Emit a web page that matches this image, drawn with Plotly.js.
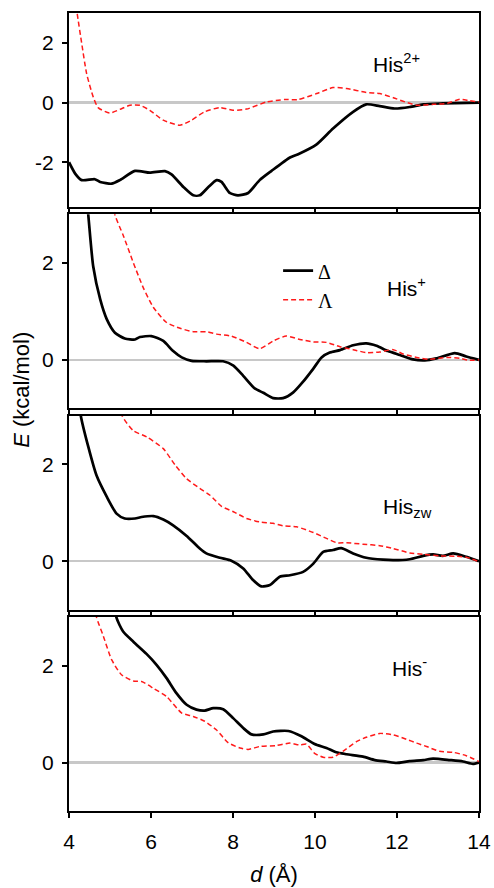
<!DOCTYPE html>
<html>
<head>
<meta charset="utf-8">
<script src="https://cdn.plot.ly/plotly-3.0.1.min.js"></script>
<style>html,body{margin:0;padding:0;background:#fff;}#chart{width:494px;height:888px;}</style>
</head>
<body>
<div id="chart"></div>
<script>
// ---- data: d (Å) and E (kcal/mol) ----
const panelLabels = ["His<sup>2+</sup>", "His<sup>+</sup>", "His<sub>zw</sub>", "His<sup>-</sup>"];
const seriesNames = ["Δ", "Λ"];
const xTicks = [4, 6, 8, 10, 12, 14];

// His2+
const d_his2p_delta = [4.0, 4.15, 4.31, 4.63, 4.76, 5.04, 5.24, 5.61, 5.97, 6.34, 6.50, 6.79, 7.03, 7.19, 7.40, 7.60, 7.72, 7.92, 8.12, 8.37, 8.65, 8.94, 9.39, 9.59, 10.04, 10.44, 10.93, 11.25, 11.58, 11.94, 12.31, 12.64, 13.12, 14.0];
const E_his2p_delta = [-2.0, -2.38, -2.60, -2.57, -2.66, -2.72, -2.60, -2.29, -2.35, -2.30, -2.41, -2.83, -3.11, -3.11, -2.83, -2.60, -2.66, -3.03, -3.11, -3.03, -2.60, -2.29, -1.84, -1.73, -1.40, -0.87, -0.31, -0.06, -0.12, -0.20, -0.15, -0.06, -0.03, 0.0];
const d_his2p_lambda = [4.15, 4.20, 4.31, 4.43, 4.59, 4.71, 4.99, 5.24, 5.49, 5.73, 5.97, 6.30, 6.70, 6.99, 7.31, 7.68, 8.00, 8.33, 8.82, 9.26, 9.59, 10.04, 10.44, 10.77, 11.25, 11.58, 11.91, 12.20, 12.49, 12.89, 13.22, 13.53, 13.77, 14.0];
const E_his2p_lambda = [3.5, 2.98, 1.98, 0.97, 0.19, -0.17, -0.35, -0.23, -0.09, -0.09, -0.26, -0.59, -0.76, -0.59, -0.31, -0.17, -0.26, -0.22, 0.02, 0.10, 0.10, 0.30, 0.50, 0.47, 0.34, 0.30, 0.16, 0.02, -0.09, -0.06, -0.03, 0.11, 0.06, 0.02];

// His+
const d_hisp_delta = [4.42, 4.47, 4.59, 4.76, 4.92, 5.12, 5.36, 5.61, 5.73, 6.01, 6.30, 6.54, 6.75, 6.99, 7.35, 7.76, 8.01, 8.25, 8.53, 8.74, 8.98, 9.22, 9.47, 9.71, 9.96, 10.16, 10.36, 10.61, 10.93, 11.25, 11.50, 11.78, 12.07, 12.39, 12.68, 12.96, 13.41, 13.69, 14.0];
const E_hisp_delta = [3.4, 2.99, 1.93, 1.25, 0.84, 0.56, 0.44, 0.42, 0.47, 0.49, 0.39, 0.18, 0.05, -0.02, -0.03, -0.03, -0.12, -0.33, -0.59, -0.68, -0.79, -0.79, -0.67, -0.45, -0.18, 0.05, 0.15, 0.20, 0.30, 0.34, 0.29, 0.18, 0.10, 0.01, -0.01, 0.03, 0.14, 0.07, 0.0];
const d_hisp_lambda = [5.05, 5.12, 5.33, 5.57, 5.81, 6.06, 6.38, 6.71, 7.03, 7.35, 7.60, 7.96, 8.33, 8.65, 8.98, 9.30, 9.63, 9.96, 10.28, 10.61, 10.93, 11.25, 11.58, 11.91, 12.15, 12.48, 12.80, 13.21, 13.53, 13.77, 14.0];
const E_hisp_lambda = [3.4, 2.99, 2.55, 2.00, 1.49, 1.08, 0.77, 0.65, 0.58, 0.58, 0.53, 0.49, 0.36, 0.23, 0.39, 0.49, 0.42, 0.37, 0.36, 0.27, 0.21, 0.15, 0.16, 0.21, 0.12, 0.05, 0.01, 0.05, 0.03, -0.01, 0.0];

// Hiszw
const d_hiszw_delta = [4.24, 4.29, 4.47, 4.67, 4.92, 5.16, 5.36, 5.61, 5.77, 6.06, 6.30, 6.54, 6.87, 7.19, 7.35, 7.68, 7.96, 8.25, 8.49, 8.69, 8.90, 9.14, 9.39, 9.71, 9.96, 10.20, 10.44, 10.64, 10.93, 11.25, 11.66, 11.91, 12.31, 12.64, 12.88, 13.12, 13.37, 13.69, 14.0];
const E_hiszw_delta = [3.4, 2.99, 2.36, 1.77, 1.33, 0.98, 0.88, 0.88, 0.91, 0.93, 0.86, 0.74, 0.52, 0.26, 0.16, 0.07, 0.01, -0.15, -0.39, -0.52, -0.49, -0.32, -0.29, -0.22, -0.05, 0.19, 0.23, 0.27, 0.16, 0.07, 0.03, 0.02, 0.04, 0.11, 0.14, 0.11, 0.16, 0.09, 0.0];
const d_hiszw_lambda = [5.22, 5.30, 5.57, 5.90, 6.30, 6.59, 6.87, 7.19, 7.44, 7.72, 8.01, 8.33, 8.65, 8.98, 9.22, 9.55, 9.96, 10.28, 10.53, 10.77, 11.17, 11.58, 11.91, 12.31, 12.64, 13.04, 13.45, 13.69, 14.0];
const E_hiszw_lambda = [3.4, 2.99, 2.69, 2.56, 2.32, 1.98, 1.70, 1.50, 1.36, 1.13, 1.02, 0.88, 0.81, 0.78, 0.73, 0.71, 0.59, 0.47, 0.38, 0.38, 0.35, 0.32, 0.26, 0.17, 0.14, 0.11, 0.10, 0.08, -0.01];

// His-
const d_hism_delta = [5.10, 5.16, 5.32, 5.57, 5.89, 6.14, 6.38, 6.62, 6.87, 7.11, 7.31, 7.52, 7.76, 8.01, 8.25, 8.45, 8.74, 8.98, 9.35, 9.67, 9.99, 10.28, 10.52, 10.77, 11.17, 11.46, 11.74, 11.99, 12.31, 12.64, 12.88, 13.29, 13.61, 13.85, 14.0];
const E_hism_delta = [3.4, 2.98, 2.70, 2.49, 2.24, 2.01, 1.74, 1.43, 1.19, 1.09, 1.07, 1.12, 1.10, 0.91, 0.71, 0.58, 0.58, 0.64, 0.65, 0.54, 0.38, 0.30, 0.21, 0.17, 0.12, 0.05, 0.02, -0.01, 0.03, 0.05, 0.08, 0.05, 0.02, -0.03, 0.0];
const d_hism_lambda = [4.6, 4.67, 4.84, 5.04, 5.28, 5.57, 5.77, 6.06, 6.38, 6.75, 7.03, 7.31, 7.60, 7.88, 8.17, 8.37, 8.65, 9.06, 9.39, 9.63, 9.79, 9.99, 10.20, 10.44, 10.68, 11.01, 11.25, 11.58, 11.91, 12.23, 12.48, 12.72, 13.04, 13.37, 13.69, 14.0];
const E_hism_lambda = [3.4, 3.0, 2.60, 2.12, 1.81, 1.68, 1.67, 1.53, 1.36, 1.02, 0.95, 0.85, 0.67, 0.41, 0.30, 0.27, 0.33, 0.35, 0.40, 0.36, 0.38, 0.19, 0.11, 0.11, 0.23, 0.43, 0.52, 0.60, 0.57, 0.48, 0.40, 0.33, 0.23, 0.21, 0.14, 0.02];

// ---- build ----
const panels = [
  {d: [d_his2p_delta, d_his2p_lambda], E: [E_his2p_delta, E_his2p_lambda], yr: [-3.5, 3], yt: [-2, 0, 2], lx: 11.36, ly: 1.32},
  {d: [d_hisp_delta, d_hisp_lambda], E: [E_hisp_delta, E_hisp_lambda], yr: [-1, 3], yt: [0, 2], lx: 11.70, ly: 1.51},
  {d: [d_hiszw_delta, d_hiszw_lambda], E: [E_hiszw_delta, E_hiszw_lambda], yr: [-1, 3], yt: [0, 2], lx: 11.60, ly: 1.10},
  {d: [d_hism_delta, d_hism_lambda], E: [E_hism_delta, E_hism_lambda], yr: [-1, 3], yt: [0, 2], lx: 11.82, ly: 1.97}
];
const domains = [[0.7569, 1.0], [0.5046, 0.7477], [0.2523, 0.4954], [0.0, 0.2431]];
const FONT = "Liberation Sans, Arial, sans-serif";

const traces = [];
const layout = {
  width: 494, height: 888,
  margin: {l: 69, r: 15, t: 13, b: 77},
  paper_bgcolor: "#fff", plot_bgcolor: "#fff",
  font: {family: FONT, size: 21, color: "#000"},
  showlegend: true,
  legend: {x: 0.51, y: 0.7015, xanchor: "left", yanchor: "top", bgcolor: "rgba(0,0,0,0)",
           font: {family: "Liberation Serif, Times New Roman, serif", size: 20, color: "#000"},
           tracegroupgap: 0},
  annotations: []
};

panels.forEach((p, i) => {
  const n = i + 1;
  const xa = "x" + (n === 1 ? "" : n), ya = "y" + (n === 1 ? "" : n);
  traces.push({x: p.d[0], y: p.E[0], xaxis: xa, yaxis: ya, mode: "lines", name: seriesNames[0],
    line: {color: "#000", width: 2.7, shape: "spline", smoothing: 0.6}, showlegend: n === 2, legendgroup: "a"});
  traces.push({x: p.d[1], y: p.E[1], xaxis: xa, yaxis: ya, mode: "lines", name: seriesNames[1],
    line: {color: "#ff1a1a", width: 1.5, dash: "5px,3px", shape: "spline", smoothing: 0.6}, showlegend: n === 2, legendgroup: "b"});
  const xaxis = {
    domain: [0, 1], anchor: ya, range: [4, 14], tickvals: xTicks, ticktext: xTicks.map(String),
    showticklabels: n === 4, ticks: "outside", ticklen: 5, tickwidth: 2, tickcolor: "#000",
    showline: true, linewidth: 2, linecolor: "#000", mirror: true, showgrid: false, zeroline: false,
    tickfont: {size: 21}, ticklabelstandoff: 6, fixedrange: true
  };
  if (n === 4) xaxis.title = {text: "<i>d</i> (Å)", font: {size: 22}, standoff: 14};
  layout["xaxis" + (n === 1 ? "" : n)] = xaxis;
  layout["yaxis" + (n === 1 ? "" : n)] = {
    domain: domains[i], anchor: xa, range: p.yr, tickvals: p.yt, ticktext: p.yt.map(v => String(v)),
    ticks: "outside", ticklen: 5, tickwidth: 2, tickcolor: "#000",
    showline: true, linewidth: 2, linecolor: "#000", mirror: true, showgrid: false,
    zeroline: true, zerolinecolor: "#c8c8c8", zerolinewidth: 2.5,
    tickfont: {size: 21}, ticklabelstandoff: 4, fixedrange: true
  };
  layout.annotations.push({xref: xa, yref: ya, x: p.lx, y: p.ly, xanchor: "left", yanchor: "middle",
    text: panelLabels[i], showarrow: false, font: {size: 21, family: FONT}});
});

layout.annotations.push({xref: "paper", yref: "paper", x: -0.115, y: 0.5276, xanchor: "center", yanchor: "middle",
  textangle: -90, text: "<i>E</i> (kcal/mol)", showarrow: false, font: {size: 22, family: FONT}});

Plotly.newPlot("chart", traces, layout, {displayModeBar: false, staticPlot: true});
</script>
</body>
</html>
